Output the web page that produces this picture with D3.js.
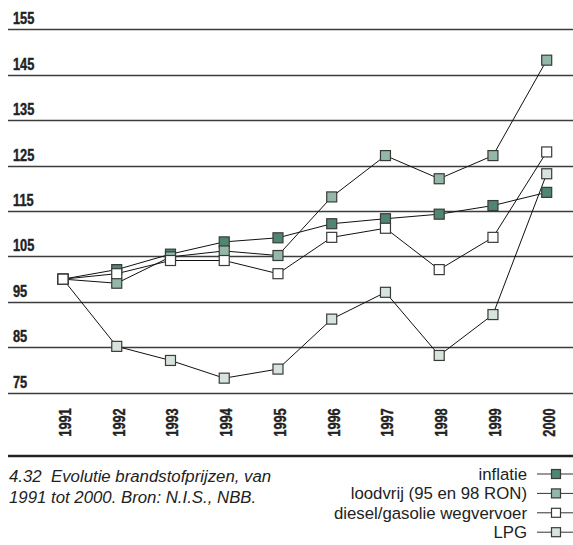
<!DOCTYPE html>
<html><head><meta charset="utf-8">
<script src="https://cdn.jsdelivr.net/npm/d3@7"></script>
<style>
html,body{margin:0;padding:0;background:#fff;}
svg{display:block;}
.bold{font-family:"Liberation Sans",Arial,sans-serif;font-weight:bold;}
.reg{font-family:"Liberation Sans",Arial,sans-serif;}
</style></head>
<body>
<svg id="chart" width="573" height="545"></svg>
<script>
const years = [1991,1992,1993,1994,1995,1996,1997,1998,1999,2000];
const yTicks = [155,145,135,125,115,105,95,85,75];
const inflatie = [100,102.1,105.5,108.2,109.1,112.2,113.3,114.3,116.2,119.1];
const loodvrij = [100,99.1,104.9,106.2,105.2,118.1,127.2,122.1,127.2,148.2];
const diesel   = [100,101.2,104.1,104.1,101.2,109.2,111.2,102.1,109.2,128.0];
const lpg      = [100,85.2,82.1,78.2,80.2,91.2,97.1,83.2,92.2,123.2];
const seriesNames = ["inflatie","loodvrij (95 en 98 RON)","diesel/gasolie wegvervoer","LPG"];
const seriesColors = ["#4f8670","#93b8a7","#ffffff","#d6e4dc"];
const captionLines = ["4.32  Evolutie brandstofprijzen, van","1991 tot 2000. Bron: N.I.S., NBB."];

const series = [
  {name:seriesNames[0], values:inflatie, color:seriesColors[0]},
  {name:seriesNames[1], values:loodvrij, color:seriesColors[1]},
  {name:seriesNames[2], values:diesel, color:seriesColors[2]},
  {name:seriesNames[3], values:lpg, color:seriesColors[3]}
];
const drawOrder = [3,0,1,2];

const svg = d3.select("#chart");
const x = d3.scalePoint().domain(years).range([63,546.7]);
const y = d3.scaleLinear().domain([75,155]).range([392.7,29.3]);

// gridlines
const yAxis = svg.append("g");
yAxis.selectAll("line").data(yTicks).join("line")
  .attr("x1",8).attr("x2",573)
  .attr("y1",d=>Math.round(y(d))+0.5).attr("y2",d=>Math.round(y(d))+0.5)
  .attr("stroke","#3c3c3c").attr("stroke-width",1.3);
yAxis.selectAll("text").data(yTicks).join("text")
  .attr("class","bold")
  .attr("transform",d=>`translate(13,${y(d)-5}) scale(0.8,1)`)
  .attr("font-size",16).attr("fill","#222")
  .attr("stroke","#222").attr("stroke-width",0.4)
  .text(d=>d);

// x labels
svg.append("g").selectAll("text").data(years).join("text")
  .attr("class","bold")
  .attr("transform",d=>`translate(${x(d)+8},422.5) rotate(-90) scale(0.8,1)`)
  .attr("text-anchor","middle")
  .attr("font-size",16).attr("fill","#222")
  .attr("stroke","#222").attr("stroke-width",0.4)
  .text(d=>d);

// lines
const line = d3.line().x((d,i)=>x(years[i])).y(d=>y(d));
svg.append("g").selectAll("path").data(drawOrder.map(i=>series[i])).join("path")
  .attr("d",d=>line(d.values)).attr("fill","none")
  .attr("stroke","#111").attr("stroke-width",1);

// markers
const ms = 10;
drawOrder.forEach(i=>{
  const s = series[i];
  svg.append("g").selectAll("rect").data(s.values).join("rect")
    .attr("x",(d,j)=>x(years[j])-ms/2).attr("y",d=>y(d)-ms/2)
    .attr("width",ms).attr("height",ms)
    .attr("fill",s.color).attr("stroke","#3a3a3a").attr("stroke-width",1.2);
});

// separator
svg.append("line").attr("x1",8).attr("x2",573).attr("y1",456).attr("y2",456)
  .attr("stroke","#222").attr("stroke-width",2.5);

// caption
svg.append("g").selectAll("text").data(captionLines).join("text")
  .attr("class","reg").attr("font-style","italic")
  .attr("x",9).attr("y",(d,i)=>482+i*21)
  .attr("font-size",16.8).attr("fill","#222")
  .style("white-space","pre")
  .text(d=>d);

// legend
const lg = svg.append("g");
series.forEach((s,i)=>{
  const cy = 474 + i*19.4;
  lg.append("text").attr("class","reg")
    .attr("x",527).attr("y",cy+6).attr("text-anchor","end")
    .attr("font-size",16.8).attr("fill","#222").text(s.name);
  lg.append("line").attr("x1",537).attr("x2",573).attr("y1",cy).attr("y2",cy)
    .attr("stroke","#333").attr("stroke-width",1);
  lg.append("rect").attr("x",551.5).attr("y",cy-4.5).attr("width",9).attr("height",9)
    .attr("fill",s.color).attr("stroke","#3a3a3a").attr("stroke-width",1.2);
});
</script>
</body></html>
